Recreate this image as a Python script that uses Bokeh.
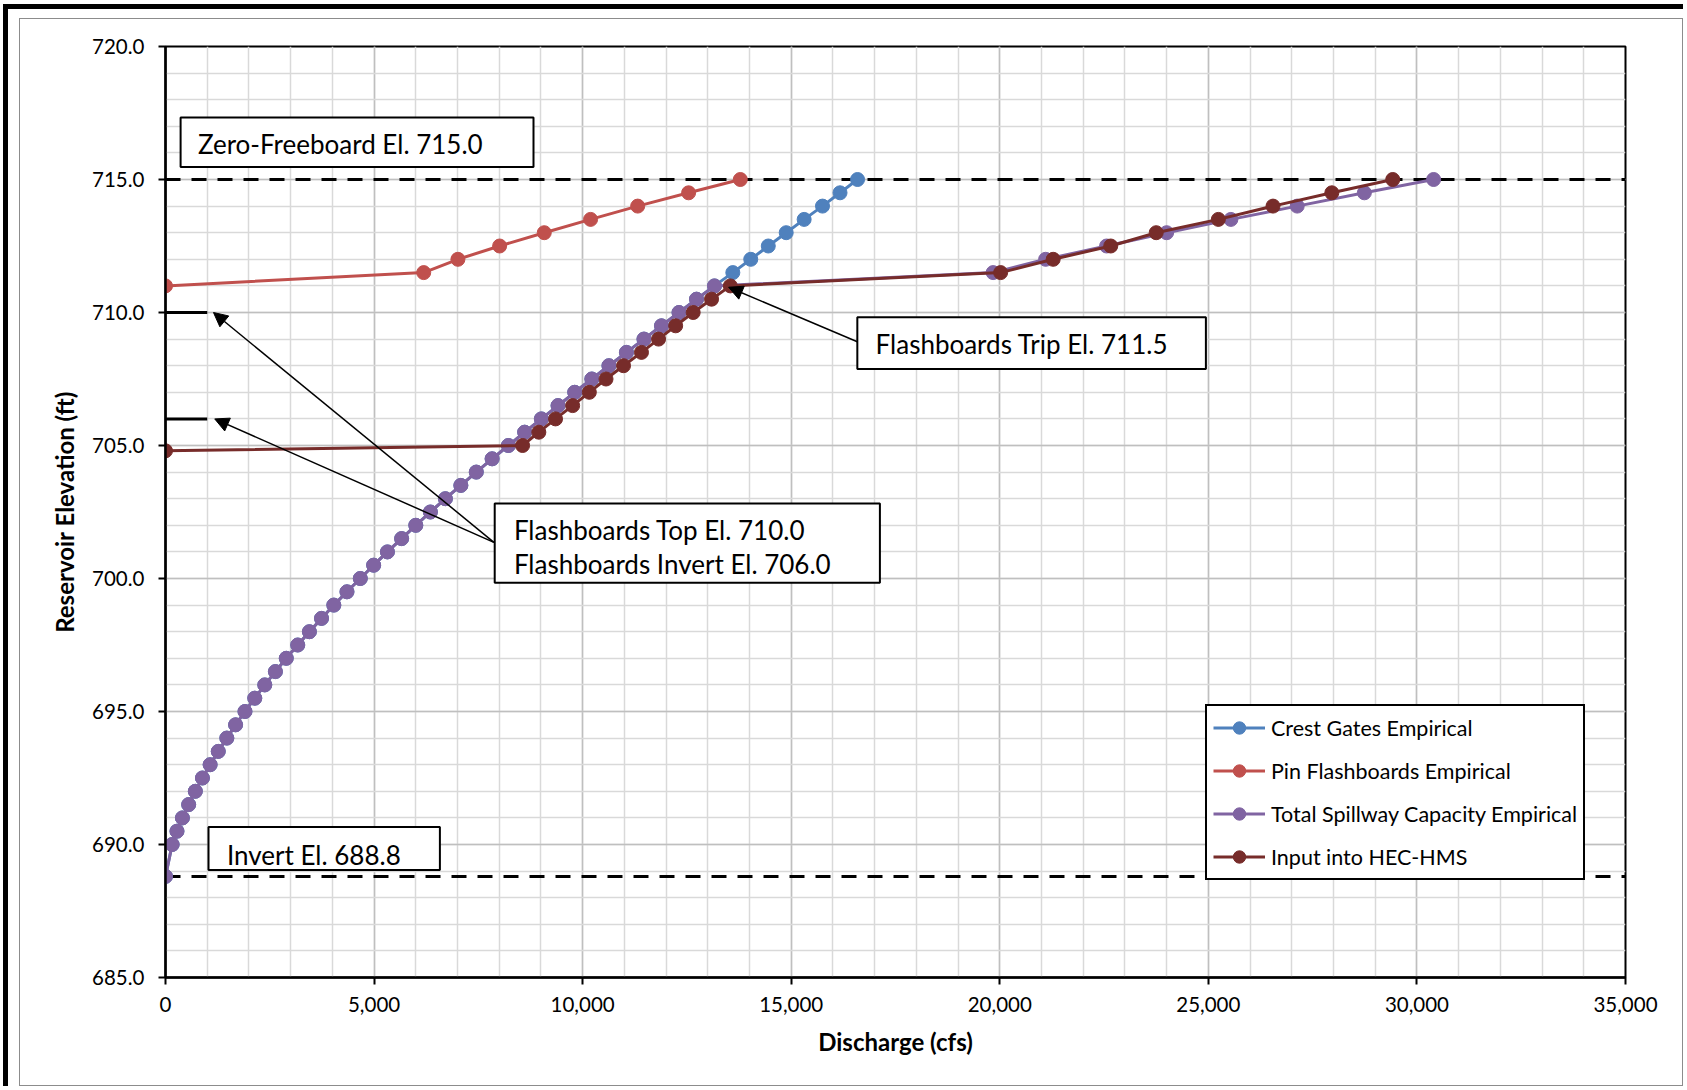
from bokeh.plotting import figure
from bokeh.layouts import column
from bokeh.models import (Range1d, SingleIntervalTicker, NumeralTickFormatter, Legend,
                          LegendItem, BoxAnnotation, Label, Arrow, NormalHead)
from bokeh.embed import file_html
from bokeh.resources import INLINE

# ---------------- data ----------------
crest_elev = [688.8, 690.0, 690.5, 691.0, 691.5, 692.0, 692.5, 693.0, 693.5, 694.0, 694.5,
              695.0, 695.5, 696.0, 696.5, 697.0, 697.5, 698.0, 698.5, 699.0, 699.5,
              700.0, 700.5, 701.0, 701.5, 702.0, 702.5, 703.0, 703.5, 704.0, 704.5,
              705.0, 705.5, 706.0, 706.5, 707.0, 707.5, 708.0, 708.5, 709.0, 709.5,
              710.0, 710.5, 711.0, 711.5, 712.0, 712.5, 713.0, 713.5, 714.0, 714.5, 715.0]
crest_q = [0, 160, 275, 405, 555, 715, 885, 1070, 1265, 1470, 1680,
           1905, 2140, 2380, 2635, 2895, 3170, 3450, 3740, 4035, 4350,
           4670, 4990, 5320, 5660, 6000, 6350, 6710, 7080, 7450, 7830,
           8220, 8610, 9010, 9410, 9810, 10220, 10630, 11050, 11470, 11890,
           12310, 12730, 13160, 13600, 14030, 14450, 14880, 15310, 15750, 16170, 16590]

flash_elev = [711.0, 711.5, 712.0, 712.5, 713.0, 713.5, 714.0, 714.5, 715.0]
flash_q = [0, 6190, 7010, 8010, 9080, 10190, 11320, 12540, 13780]

spill_elev = [688.8, 690.0, 690.5, 691.0, 691.5, 692.0, 692.5, 693.0, 693.5, 694.0, 694.5,
              695.0, 695.5, 696.0, 696.5, 697.0, 697.5, 698.0, 698.5, 699.0, 699.5,
              700.0, 700.5, 701.0, 701.5, 702.0, 702.5, 703.0, 703.5, 704.0, 704.5,
              705.0, 705.5, 706.0, 706.5, 707.0, 707.5, 708.0, 708.5, 709.0, 709.5,
              710.0, 710.5, 711.0, 711.5, 712.0, 712.5, 713.0, 713.5, 714.0, 714.5, 715.0]
spill_q = [0, 160, 275, 405, 555, 715, 885, 1070, 1265, 1470, 1680,
           1905, 2140, 2380, 2635, 2895, 3170, 3450, 3740, 4035, 4350,
           4670, 4990, 5320, 5660, 6000, 6350, 6710, 7080, 7450, 7830,
           8220, 8610, 9010, 9410, 9810, 10220, 10630, 11050, 11470, 11890,
           12310, 12730, 13160, 19840, 21100, 22560, 24000, 25540, 27130, 28740, 30400]

hms_elev = [704.8, 705.0, 705.5, 706.0, 706.5, 707.0, 707.5, 708.0, 708.5, 709.0, 709.5,
            710.0, 710.5, 711.0, 711.5, 712.0, 712.5, 713.0, 713.5, 714.0, 714.5, 715.0]
hms_q = [0, 8560, 8950, 9350, 9760, 10160, 10560, 10980, 11410, 11820, 12230,
         12650, 13090, 13540, 20020, 21280, 22660, 23750, 25240, 26550, 27960, 29420]

ref_q = [0, 35000]
zero_freeboard_el = [715.0, 715.0]
invert_el = [688.8, 688.8]
fb_q = [0, 1000]
fb_top_el = [710.0, 710.0]
fb_invert_el = [706.0, 706.0]

series_names = ["Crest Gates Empirical", "Pin Flashboards Empirical",
                "Total Spillway Capacity Empirical", "Input into HEC-HMS"]
series_colors = ["#4F81BD", "#C0504D", "#8064A2", "#772C2A"]

x_ticks_step = 5000
y_ticks_step = 5

# ---------------- figure ----------------
W, H = 1664, 1068
FONT = "Lato"
p = figure(width=W, height=H, output_backend="svg", toolbar_location=None,
           x_range=Range1d(0, 35000), y_range=Range1d(685, 720),
           min_border_left=145, min_border_right=59, min_border_top=27, min_border_bottom=110,
           background_fill_color="white", border_fill_color="white")
p.outline_line_color = "black"
p.outline_line_width = 2
p.styles = {"border": "1px solid #8C8C8C"}

p.xaxis.ticker = SingleIntervalTicker(interval=x_ticks_step, num_minor_ticks=5)
p.yaxis.ticker = SingleIntervalTicker(interval=y_ticks_step, num_minor_ticks=5)
p.xaxis.formatter = NumeralTickFormatter(format="0,0")
p.yaxis.formatter = NumeralTickFormatter(format="0.0")
p.xaxis.axis_label = "Discharge (cfs)"
p.yaxis.axis_label = "Reservoir Elevation (ft)"

for ax in (p.xaxis[0], p.yaxis[0]):
    ax.axis_line_color = "black"
    ax.axis_line_width = 2.5
    ax.major_tick_line_color = "black"
    ax.major_tick_line_width = 2
    ax.major_tick_out = 7
    ax.major_tick_in = 0
    ax.minor_tick_line_color = None
    ax.major_label_text_font = FONT
    ax.major_label_text_font_size = "20.5px"
    ax.major_label_text_color = "black"
    ax.axis_label_text_font = FONT
    ax.axis_label_text_font_style = "bold"
    ax.axis_label_text_font_size = "24px"
    ax.axis_label_text_color = "black"
p.yaxis.major_label_standoff = 14
p.xaxis.major_label_standoff = 12
p.yaxis.axis_label_standoff = 10
p.xaxis.axis_label_standoff = 12

for g in (p.xgrid[0], p.ygrid[0]):
    g.grid_line_color = "#BFBFBF"
    g.grid_line_width = 1.5
    g.minor_grid_line_color = "#D9D9D9"
    g.minor_grid_line_width = 1.5

# reference lines
p.line(ref_q, zero_freeboard_el, line_color="black", line_width=3, line_dash="15 11")
p.line(ref_q, invert_el, line_color="black", line_width=3, line_dash="15 11")
p.line(fb_q, fb_top_el, line_color="black", line_width=3)
p.line(fb_q, fb_invert_el, line_color="black", line_width=3)

# series
items = []
for name, color, xs, ys in zip(series_names, series_colors,
                               [crest_q, flash_q, spill_q, hms_q],
                               [crest_elev, flash_elev, spill_elev, hms_elev]):
    lr = p.line(xs, ys, line_color=color, line_width=3)
    sr = p.scatter(xs, ys, size=14, fill_color=color, line_color=color)
    items.append(LegendItem(label=name, renderers=[lr, sr]))

legend = Legend(items=items, location=(1040, 97), orientation="vertical",
                label_text_font=FONT, label_text_font_size="21.5px", label_text_color="black",
                glyph_width=52, glyph_height=31, label_height=31, spacing=12, padding=6,
                label_standoff=6, border_line_color="black", border_line_width=2,
                border_line_alpha=1.0,
                background_fill_color="white", background_fill_alpha=1.0, margin=0)
p.add_layout(legend)

# annotation boxes + text
boxes = [
    (362, 8822, 717.33, 715.47),
    (1031, 6578, 690.66, 689.04),
    (7892, 17126, 702.82, 699.84),
    (16585, 24941, 709.82, 707.88),
]
for l, r, t, b in boxes:
    p.add_layout(BoxAnnotation(left=l, right=r, top=t, bottom=b, fill_color="white",
                               fill_alpha=1.0, line_color="black", line_alpha=1.0,
                               line_width=2))

texts = [
    (777, 716.35, "Zero-Freeboard El. 715.0"),
    (1472, 689.62, "Invert El. 688.8"),
    (8352, 701.81, "Flashboards Top El. 710.0"),
    (8352, 700.56, "Flashboards Invert El. 706.0"),
    (17023, 708.83, "Flashboards Trip El. 711.5"),
]
for x, y, t in texts:
    p.add_layout(Label(x=x, y=y, text=t, text_font=FONT, text_font_size="26px",
                       text_color="black", text_align="left", text_baseline="middle"))

arrows = [
    (7873, 701.36, 1150, 710.0),
    (7873, 701.36, 1180, 706.0),
    (16585, 708.9, 13500, 710.95),
]
for xs_, ys_, xe, ye in arrows:
    p.add_layout(Arrow(end=NormalHead(size=14, fill_color="black", line_color="black"),
                       x_start=xs_, y_start=ys_, x_end=xe, y_end=ye,
                       line_color="black", line_width=1.5))

root = column(p, margin=(4, 0, 0, 3),
              styles={"border-top": "5px solid black", "border-left": "5px solid black",
                      "padding-top": "9px", "padding-left": "11px"})

open("out.html", "w").write(file_html(root, INLINE))
